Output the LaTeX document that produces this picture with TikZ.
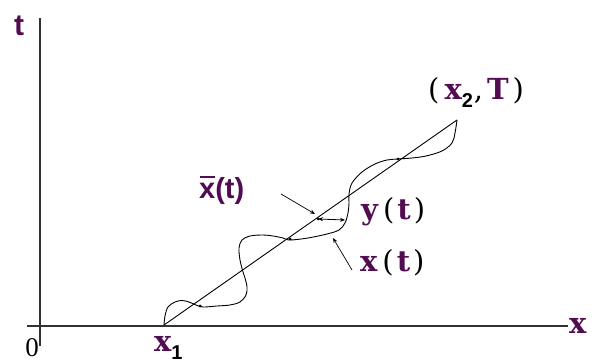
\documentclass[tikz,border=0pt]{standalone}
\usepackage{fontspec}
\usetikzlibrary{arrows.meta}
\newfontfamily\lserif{DejaVu Serif}
\newfontfamily\lsans{Liberation Sans}
\newfontfamily\ltimes{Liberation Serif}
\definecolor{pur}{RGB}{82,12,82}
\definecolor{axisgray}{RGB}{50,50,50}
\newcommand{\pb}[1]{\textcolor{pur}{\bfseries #1}}
\newcommand{\sbx}[1]{\raisebox{-8pt}{\lsans\bfseries\fontsize{20}{20}\selectfont #1}}
\begin{document}
\begin{tikzpicture}[x=1pt,y=-1pt,
  axisline/.style={draw=axisgray,line width=1.6pt},
  pathline/.style={draw=black,line width=0.9pt},
  ptr/.style={draw=black,line width=0.7pt,-{Stealth[length=5pt,width=4pt]}},
  lbl/.style={inner sep=0pt,font=\lserif\fontsize{29}{29}\selectfont},
  dot/.style={circle,fill=black,inner sep=0pt,minimum size=3pt}]
\useasboundingbox (0,0) rectangle (595,363);
% axes
\coordinate (vtop) at (40,18);
\coordinate (vbot) at (40,346);
\coordinate (hleft) at (27,326);
\coordinate (hright) at (568,326);
\draw[axisline] (vtop) -- (vbot);
\draw[axisline] (hleft) -- (hright);
% key points
\coordinate (x1) at (164,325);
\coordinate (x2T) at (457,120);
\coordinate (xb) at (318,219);
\coordinate (yr) at (345,220);
% straight line
\draw[pathline] (x1) -- (x2T);
% wiggly path x(t)
\draw[pathline] plot[smooth,tension=0.55] coordinates {
 (164,325) (165,316) (168,307) (175,302) (182,300.5) (189,302) (196,305)
 (203,307) (217,306) (230,305) (240,302) (246,295) (247,287) (245,278)
 (243,272) (240,260) (239,248) (242,240) (250,236) (263,235) (273,236)
 (283,238) (290,240) (308,238) (327,234) (339,230) (345,223) (348,213)
 (349,203) (349,194) (352,183) (362,172) (375,164) (387,160) (398,159)
 (412,158) (426,156) (442,151) (452,143) (455,133) (457,120)};
% dots at crossings
\node[dot] (d1) at (200,306) {};
\node[dot] (d2) at (290,239) {};
\node[dot] (d3) at (xb) {};
\node[dot] (d4) at (398,159) {};
% y(t) double arrow
\draw[draw=black,line width=0.8pt,{Stealth[length=5pt,width=4pt]}-{Stealth[length=5pt,width=4pt]}] (xb) -- (yr);
% labels
\node[inner sep=0pt,font=\lsans\bfseries\fontsize{30}{30}\selectfont,text=pur] (tlab) at (19,26) {t};
\node[lbl,anchor=base west] (xlab) at (569,334) {\pb{x}};
\node[inner sep=0pt,anchor=base,font=\ltimes\fontsize{27}{27}\selectfont] (zero) at (32,357) {0};
\node[lbl,anchor=base west] (x1lab) at (154,352) {\pb{x}\sbx{1}};
\node[lbl,anchor=base west] (x2lab) at (428,100) {(\hspace{5pt}\pb{x}\sbx{2}\hspace{1pt},\hspace{4pt}\pb{T}\hspace{4pt})};
\node[inner sep=0pt,anchor=base west,font=\lsans\bfseries\fontsize{29}{29}\selectfont,text=pur] (xbarlab) at (199,199) {x\llap{\rule[21pt]{15pt}{2pt}\hspace{0.5pt}}(t)};
\node[lbl,anchor=base west] (ylab) at (361,220) {\pb{y}\hspace{5pt}(\hspace{3pt}\pb{t}\hspace{3pt})};
\node[lbl,anchor=base west] (xtlab) at (360,272) {\pb{x}\hspace{5pt}(\hspace{3pt}\pb{t}\hspace{3pt})};
% pointer arrows
\coordinate (xbtail) at (281,194);
\coordinate (xbtip) at (315,214);
\coordinate (xttail) at (352,270);
\coordinate (xttip) at (333,238);
\draw[ptr] (xbtail) -- (xbtip);
\draw[ptr] (xttail) -- (xttip);
\end{tikzpicture}
\end{document}
